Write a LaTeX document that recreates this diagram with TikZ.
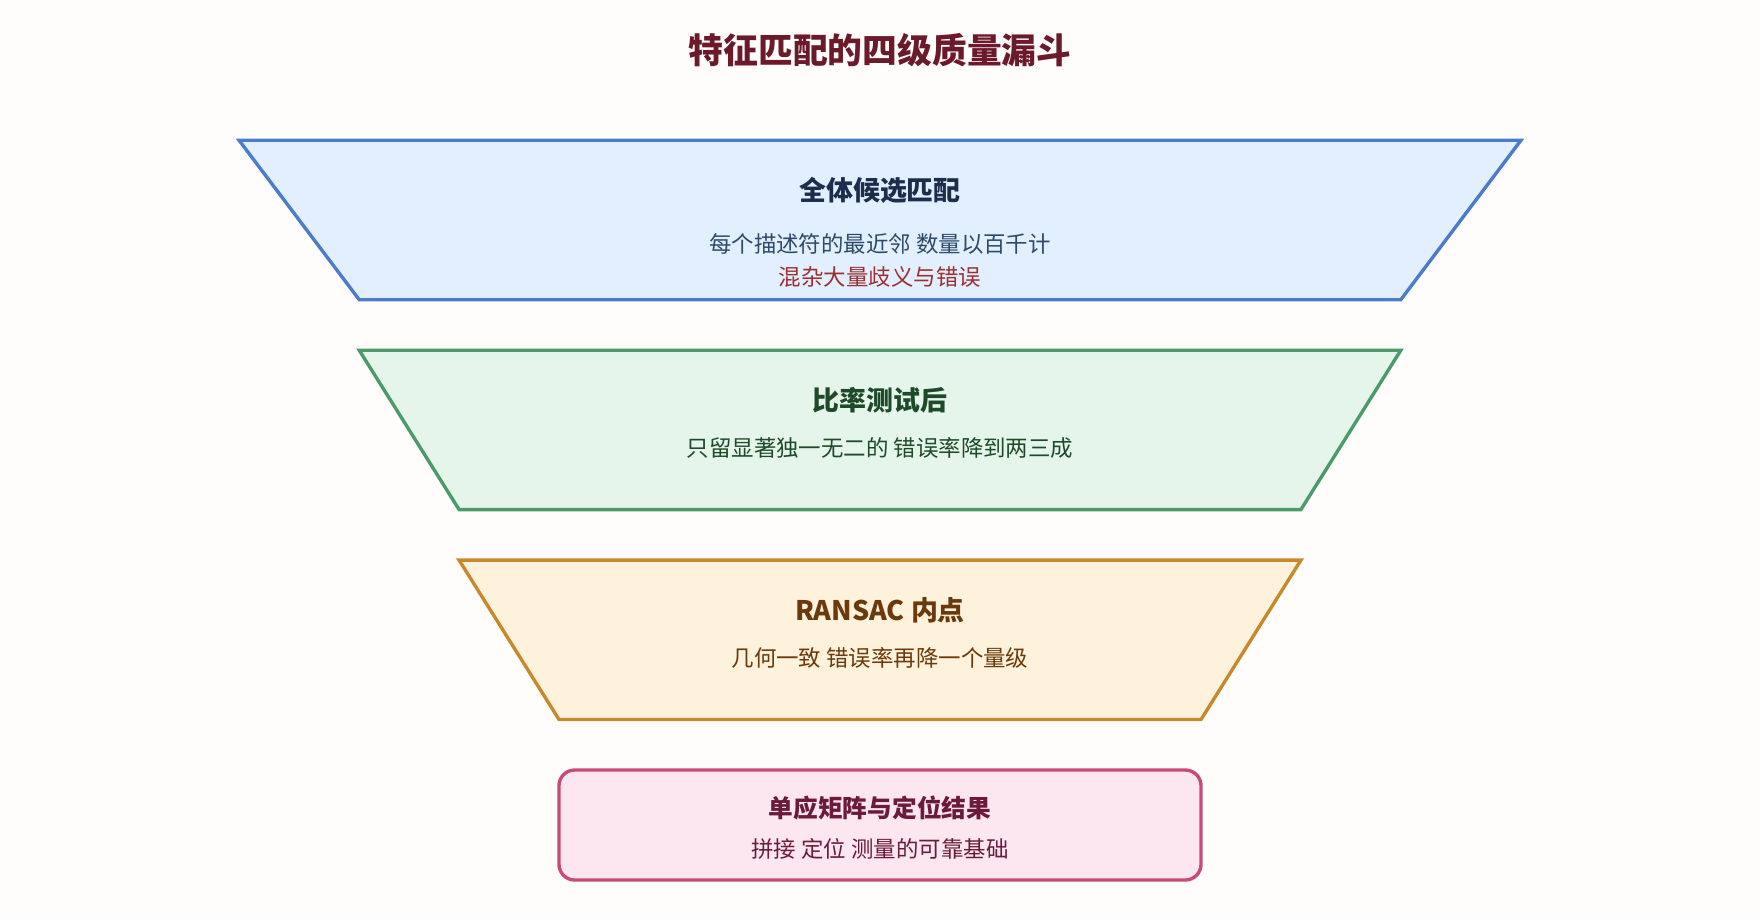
\documentclass[tikz,border=0pt]{standalone}
\usepackage{fontspec}
\setmainfont{Noto Sans CJK SC}
\begin{document}
\begin{tikzpicture}[x=1pt,y=-1pt,
 stage/.style={line width=3pt,line join=miter},
 ttl/.style={font=\fontsize{24}{28}\selectfont\bfseries,anchor=center},
 sub/.style={font=\fontsize{20}{24}\selectfont,anchor=center}]
\definecolor{bS}{HTML}{4A7CC9}\definecolor{bF}{HTML}{E1EFFE}\definecolor{bT}{HTML}{1F2D4D}\definecolor{bU}{HTML}{2E4A6B}\definecolor{rT}{HTML}{9B3030}
\definecolor{gS}{HTML}{4A9A6A}\definecolor{gF}{HTML}{E5F5E9}\definecolor{gT}{HTML}{1E4A2A}
\definecolor{oS}{HTML}{C8892A}\definecolor{oF}{HTML}{FEF2DC}\definecolor{oT}{HTML}{6B3A0A}
\definecolor{pS}{HTML}{C84A78}\definecolor{pF}{HTML}{FCE6EF}\definecolor{pT}{HTML}{6B1A3A}
\definecolor{tT}{HTML}{6B1A2A}
\fill[white!99!red] (0,0) rectangle (1568,820);
\useasboundingbox (0,0) rectangle (1568,820);
\node[font=\fontsize{31}{36}\selectfont\bfseries,text=tT] (title) at (784,45) {特征匹配的四级质量漏斗};
\draw[stage,draw=bS,fill=bF] (213,125)--(1355,125)--(1248,267)--(320,267)--cycle;
\node[ttl,text=bT] (t1) at (784,170) {全体候选匹配};
\node[sub,text=bU] (s1) at (784,217) {每个描述符的最近邻 数量以百千计};
\node[sub,text=rT] (r1) at (784,247) {混杂大量歧义与错误};
\draw[stage,draw=gS,fill=gF] (320,312)--(1248,312)--(1159,454)--(409,454)--cycle;
\node[ttl,text=gT] (t2) at (784,357) {比率测试后};
\node[sub,text=gT] (s2) at (784,399) {只留显著独一无二的 错误率降到两三成};
\draw[stage,draw=oS,fill=oF] (409,499)--(1159,499)--(1070,641)--(498,641)--cycle;
\node[ttl,text=oT] (t3) at (784,544) {RANSAC 内点};
\node[sub,text=oT] (s3) at (784,586) {几何一致 错误率再降一个量级};
\draw[stage,draw=pS,fill=pF,rounded corners=14pt] (498,686) rectangle (1070,784);
\node[ttl,text=pT,font=\fontsize{22}{26}\selectfont\bfseries] (t4) at (784,720) {单应矩阵与定位结果};
\node[sub,text=pT] (s4) at (784,756) {拼接 定位 测量的可靠基础};
\end{tikzpicture}
\end{document}
